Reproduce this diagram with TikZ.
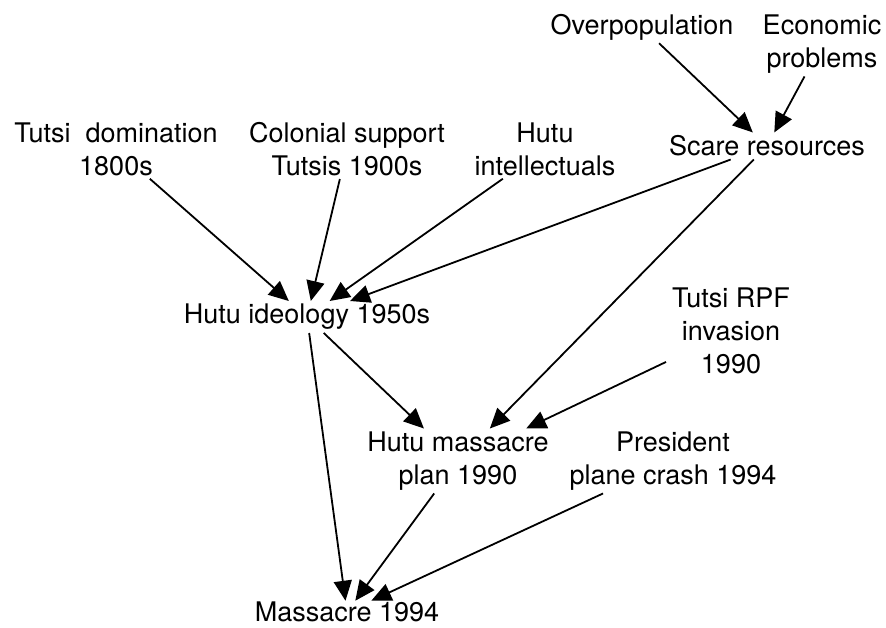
\documentclass[tikz,border=0pt]{standalone}
\usepackage{fontspec}
\setmainfont{TeX Gyre Heros}
\usetikzlibrary{arrows.meta}

\begin{document}
\begin{tikzpicture}[x=1pt, y=-1pt,
  lbl/.style={align=center, inner xsep=6pt, inner ysep=3pt,
              font=\fontsize{27}{33}\selectfont},
  link/.style={-{Triangle[length=20pt,width=18pt]}, line width=1.8pt}]
  \useasboundingbox (0,0) rectangle (886,628);

  % causes at the top
  \node[lbl] (over)  at (642,27)  {Overpopulation};
  \node[lbl] (econ)  at (822,44)  {Economic\\problems};
  \node[lbl] (scare) at (767,146) {Scare resources};
  \node[lbl] (tdom)  at (116,149) {Tutsi~~domination\\1800s};
  \node[lbl] (colon) at (347,149) {Colonial support\\Tutsis 1900s};
  \node[lbl] (intel) at (545,149) {Hutu\\intellectuals};

  % middle layer
  \node[lbl] (ideol) at (307,317) {Hutu ideology 1950s};
  \node[lbl] (rpf)   at (731,331) {Tutsi RPF\\invasion\\1990};
  \node[lbl] (plan)  at (458,461) {Hutu massacre\\plan 1990};
  \node[lbl] (pres)  at (673,461) {President\\plane crash 1994};

  % outcome
  \node[lbl, inner ysep=1pt] (mass) at (347,612) {Massacre 1994};

  % causal links
  \draw[link] (over)  -- (scare);
  \draw[link] (econ)  -- (scare);
  \draw[link] (tdom)  -- (ideol);
  \draw[link] (colon) -- (ideol);
  \draw[link] (intel) -- (ideol);
  \draw[link] (scare) -- (ideol);
  \draw[link] (scare) -- (plan);
  \draw[link] (ideol) -- (plan);
  \draw[link] (rpf)   -- (plan);
  \draw[link] (ideol) -- (mass);
  \draw[link] (plan)  -- (mass);
  \draw[link] (pres)  -- (mass);
\end{tikzpicture}
\end{document}
